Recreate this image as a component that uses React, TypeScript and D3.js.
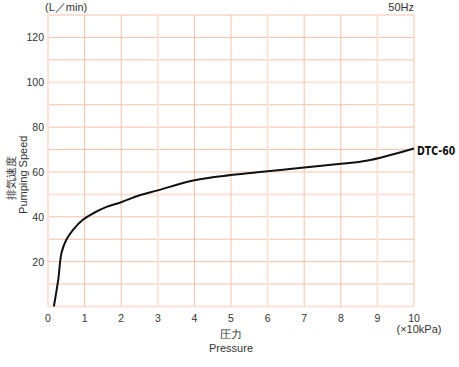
import * as d3 from "d3";
import React, { useEffect, useRef } from "react";

// pressure (x10 kPa) vs pumping speed (L/min)
const pressure = [0.16, 0.28, 0.37, 0.5, 0.69, 0.96, 1.25, 1.6, 2, 2.5, 3, 4, 5, 6, 7, 8, 8.7, 10];
const speed = [0, 12, 24, 29.8, 34.3, 38.8, 41.7, 44.4, 46.5, 49.6, 51.8, 56.3, 58.6, 60.3, 62, 63.7, 65, 70.5];
const xTicks = [0, 1, 2, 3, 4, 5, 6, 7, 8, 9, 10];
const yTicks = [20, 40, 60, 80, 100, 120];
const seriesName = "DTC-60";

const W = 459;
const H = 367;
const FONT = "'Liberation Sans', Arial, sans-serif";

const App: React.FC = () => {
  const svgRef = useRef<SVGSVGElement | null>(null);

  useEffect(() => {
    if (!svgRef.current) return;
    const svg = d3.select(svgRef.current);
    svg.selectAll("*").remove();

    const margin = { top: 15, right: 45, bottom: 60.5, left: 48 };

    const x = d3.scaleLinear().domain([0, 10]).range([margin.left, W - margin.right]);
    const y = d3.scaleLinear().domain([0, 130]).range([H - margin.bottom, margin.top]);

    const normal = "#f7c2aa";
    const pale = "#fde4db";

    // === Gridlines ===
    const g = svg.append("g");
    d3.range(0, 131, 10).forEach((v) => {
      const strong = v % 50 === 0;
      g.append("line")
        .attr("x1", x(0))
        .attr("x2", x(10))
        .attr("y1", y(v))
        .attr("y2", y(v))
        .attr("stroke", strong ? pale : normal)
        .attr("stroke-width", strong ? 2 : 1);
    });
    d3.range(0, 11, 1).forEach((v) => {
      const strong = v % 3 === 0;
      g.append("line")
        .attr("x1", x(v))
        .attr("x2", x(v))
        .attr("y1", y(0))
        .attr("y2", y(130))
        .attr("stroke", strong ? pale : normal)
        .attr("stroke-width", strong ? 2 : 1);
    });

    // === Tick labels ===
    svg
      .append("g")
      .selectAll("text")
      .data(yTicks)
      .enter()
      .append("text")
      .attr("x", margin.left - 4)
      .attr("y", (d) => y(d) + 4)
      .attr("text-anchor", "end")
      .attr("font-family", FONT)
      .attr("font-size", "10.5px")
      .attr("fill", "#333")
      .text((d) => d);

    svg
      .append("g")
      .selectAll("text")
      .data(xTicks)
      .enter()
      .append("text")
      .attr("x", (d) => x(d))
      .attr("y", y(0) + 15)
      .attr("text-anchor", "middle")
      .attr("font-family", FONT)
      .attr("font-size", "10.5px")
      .attr("fill", "#333")
      .text((d) => d);

    // === Line ===
    const pts = pressure.map((p, i) => [p, speed[i]] as [number, number]);
    const line = d3
      .line<[number, number]>()
      .x((d) => x(d[0]))
      .y((d) => y(d[1]))
      .curve(d3.curveCatmullRom.alpha(0.5));
    svg
      .append("path")
      .datum(pts)
      .attr("fill", "none")
      .attr("stroke", "#111")
      .attr("stroke-width", 2)
      .attr("d", line);

    // series name, squeezed horizontally like a condensed face
    const last = pts[pts.length - 1];
    svg
      .append("text")
      .attr("transform", `translate(${x(last[0]) + 3},${y(last[1]) + 7}) scale(0.8,1)`)
      .attr("font-family", "'DejaVu Sans Condensed', 'DejaVu Sans', sans-serif")
      .attr("font-weight", "bold")
      .attr("font-size", "13px")
      .attr("fill", "#111")
      .text(seriesName);

    // === Labels ===
    const label = (tx: number, ty: number, t: string, anchor = "middle") =>
      svg
        .append("text")
        .attr("x", tx)
        .attr("y", ty)
        .attr("text-anchor", anchor)
        .attr("font-family", FONT)
        .attr("font-size", "11px")
        .attr("fill", "#333")
        .text(t);

    label(45, 11, "(L／min)", "start");
    label(x(10), 11, "50Hz", "end");
    label(x(10) + 5, 333, "(×10kPa)");
    label((x(0) + x(10)) / 2, 338, "圧力");
    label((x(0) + x(10)) / 2, 352, "Pressure");

    const yc = (y(0) + y(130)) / 2 + 14;
    label(0, 0, "排気速度").attr("transform", `translate(15,${yc + 3}) rotate(-90)`);
    label(0, 0, "Pumping Speed").attr("transform", `translate(27,${yc}) rotate(-90)`);
  }, []);

  return (
    <svg
      ref={svgRef}
      width={W}
      height={H}
      style={{ position: "absolute", left: 0, top: 0, background: "#fff" }}
    ></svg>
  );
};

export default App;
